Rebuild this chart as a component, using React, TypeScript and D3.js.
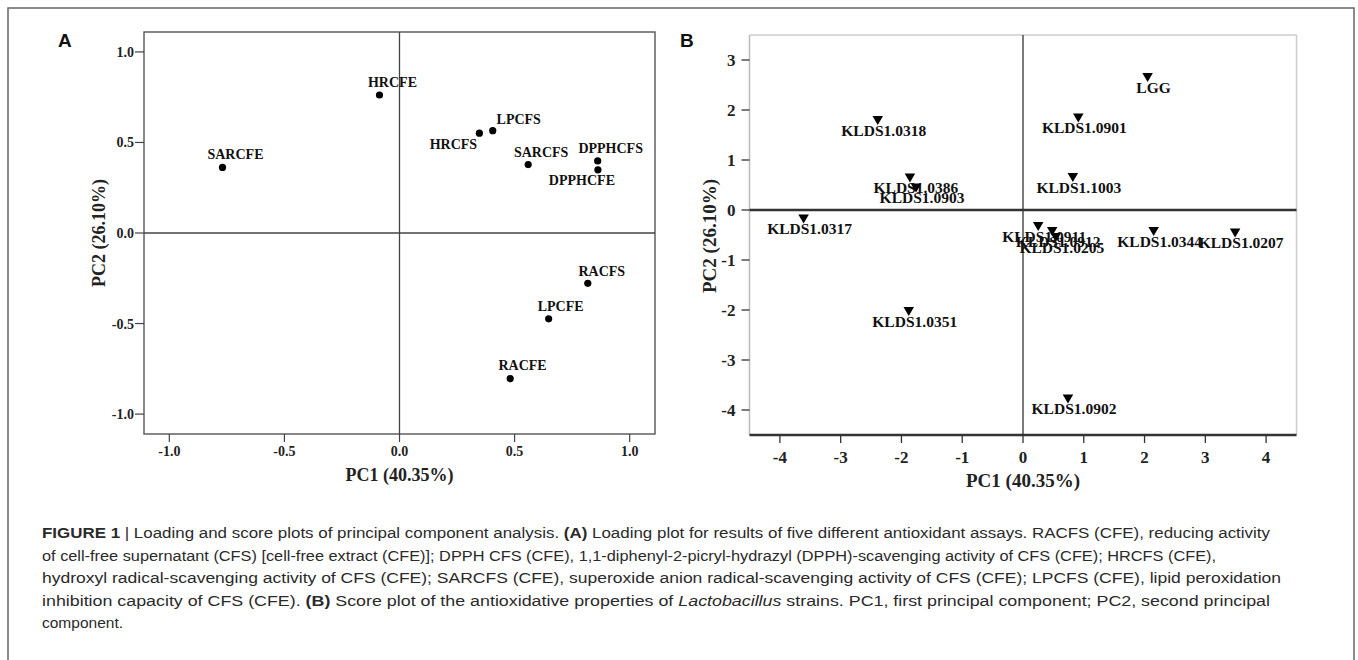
import React from "react";
import * as d3 from "d3";

// ---------- Panel A: loading plot ----------
const loadingLabels = ["HRCFE", "SARCFE", "HRCFS", "LPCFS", "SARCFS", "DPPHCFS", "DPPHCFE", "RACFS", "LPCFE", "RACFE"];
const loadingPC1 = [-0.087, -0.769, 0.347, 0.405, 0.559, 0.861, 0.862, 0.818, 0.648, 0.481];
const loadingPC2 = [0.762, 0.362, 0.551, 0.565, 0.378, 0.398, 0.349, -0.278, -0.474, -0.804];
const ticksA = [-1.0, -0.5, 0.0, 0.5, 1.0];

// ---------- Panel B: score plot ----------
const strains = ["LGG", "KLDS1.0318", "KLDS1.0901", "KLDS1.0386", "KLDS1.0903", "KLDS1.1003", "KLDS1.0317", "KLDS1.0911", "KLDS1.0912", "KLDS1.0205", "KLDS1.0344", "KLDS1.0207", "KLDS1.0351", "KLDS1.0902"];
const scorePC1 = [2.05, -2.39, 0.91, -1.86, -1.76, 0.82, -3.61, 0.25, 0.48, 0.54, 2.15, 3.49, -1.88, 0.74];
const scorePC2 = [2.68, 1.82, 1.87, 0.67, 0.47, 0.68, -0.15, -0.3, -0.4, -0.52, -0.4, -0.43, -2.0, -3.75];
const ticksBx = [-4, -3, -2, -1, 0, 1, 2, 3, 4];
const ticksBy = [-4, -3, -2, -1, 0, 1, 2, 3];

// label placement (layout only) for panel A: [dx, dy] from point
const labelOffsetA: [number, number][] = [
  [13, -8], [13, -8], [-26, 16], [26, -6.5], [13, -7.6], [13, -8.4], [-16, 15.3], [14, -7.3], [12, -8.3], [12.4, -8.7],
];

const captionLines: { parts: { t: string; b?: boolean; i?: boolean }[]; end: number | null }[] = [
  {
    parts: [
      { t: "FIGURE 1", b: true },
      { t: " | Loading and score plots of principal component analysis. " },
      { t: "(A)", b: true },
      { t: " Loading plot for results of five different antioxidant assays. RACFS (CFE), reducing activity" },
    ],
    end: 1270,
  },
  {
    parts: [{ t: "of cell-free supernatant (CFS) [cell-free extract (CFE)]; DPPH CFS (CFE), 1,1-diphenyl-2-picryl-hydrazyl (DPPH)-scavenging activity of CFS (CFE); HRCFS (CFE)," }],
    end: 1216,
  },
  {
    parts: [{ t: "hydroxyl radical-scavenging activity of CFS (CFE); SARCFS (CFE), superoxide anion radical-scavenging activity of CFS (CFE); LPCFS (CFE), lipid peroxidation" }],
    end: 1281,
  },
  {
    parts: [
      { t: "inhibition capacity of CFS (CFE). " },
      { t: "(B)", b: true },
      { t: " Score plot of the antioxidative properties of " },
      { t: "Lactobacillus", i: true },
      { t: " strains. PC1, first principal component; PC2, second principal" },
    ],
    end: 1270,
  },
  { parts: [{ t: "component." }], end: null },
];

const serif = "'Liberation Serif', 'Times New Roman', serif";
const sans = "'Liberation Sans', Arial, sans-serif";
const narrow = "'Liberation Sans Narrow', 'Arial Narrow', 'Liberation Sans', Arial, sans-serif";

const locale = d3.formatLocale({ decimal: ".", thousands: ",", grouping: [3], currency: ["", ""], minus: "-" });

export default function App() {
  // Panel A scales
  const xA = d3.scaleLinear().domain([-1.11, 1.11]).range([144, 655]);
  const yA = d3.scaleLinear().domain([-1.11, 1.11]).range([434, 32]);
  // Panel B scales
  const xB = d3.scaleLinear().domain([-4.5, 4.5]).range([749.5, 1296.5]);
  const yB = d3.scaleLinear().domain([-4.5, 3.5]).range([435, 35]);
  const fmtA = locale.format(".1f");
  const fmtB = locale.format("d");
  const tri = d3.symbol().type(d3.symbolTriangle).size(48)() as string;

  const [ax0, ax1] = xA.range();
  const [ay0, ay1] = yA.range();
  const [bx0, bx1] = xB.range();
  const [by0, by1] = yB.range();

  return (
    <div style={{ position: "absolute", left: 0, top: 0 }}>
      <svg width={1358} height={660} style={{ display: "block", background: "#fff" }}>
        <rect x={8} y={8} width={1346} height={680} fill="none" stroke="#666" strokeWidth={1.5} />

        {/* Panel labels */}
        <text x={58} y={47} fontFamily={sans} fontWeight="bold" fontSize={19} fill="#111">A</text>
        <text x={680} y={47} fontFamily={sans} fontWeight="bold" fontSize={19} fill="#111">B</text>

        {/* ---------- Panel A ---------- */}
        <g>
          <rect x={ax0} y={ay1} width={ax1 - ax0} height={ay0 - ay1} fill="none" stroke="#555" strokeWidth={1.4} />
          <line x1={xA(0)} x2={xA(0)} y1={ay1} y2={ay0} stroke="#444" strokeWidth={1.3} />
          <line x1={ax0} x2={ax1} y1={yA(0)} y2={yA(0)} stroke="#444" strokeWidth={1.3} />
          {ticksA.map((t) => (
            <g key={"ay" + t}>
              <line x1={ax0 - 9} x2={ax0} y1={yA(t)} y2={yA(t)} stroke="#444" strokeWidth={1.2} />
              <text x={ax0 - 10} y={yA(t) + 5} textAnchor="end" fontFamily={serif} fontWeight="bold" fontSize={14} fill="#222">
                {fmtA(t)}
              </text>
            </g>
          ))}
          {ticksA.map((t) => (
            <g key={"ax" + t}>
              <line x1={xA(t)} x2={xA(t)} y1={ay0} y2={ay0 + 8} stroke="#444" strokeWidth={1.2} />
              <text x={xA(t)} y={ay0 + 22} textAnchor="middle" fontFamily={serif} fontWeight="bold" fontSize={14} fill="#222">
                {fmtA(t)}
              </text>
            </g>
          ))}
          <text x={xA(0)} y={481} textAnchor="middle" fontFamily={serif} fontWeight="bold" fontSize={18} fill="#222">
            PC1 (40.35%)
          </text>
          <text transform={`translate(105,${yA(0)}) rotate(-90)`} textAnchor="middle" fontFamily={serif} fontWeight="bold" fontSize={18} fill="#222">
            PC2 (26.10%)
          </text>
          {loadingLabels.map((lab, i) => (
            <g key={lab}>
              <circle cx={xA(loadingPC1[i])} cy={yA(loadingPC2[i])} r={3.6} fill="#000" />
              <text
                x={xA(loadingPC1[i]) + labelOffsetA[i][0]}
                y={yA(loadingPC2[i]) + labelOffsetA[i][1]}
                textAnchor="middle"
                fontFamily={serif}
                fontWeight="bold"
                fontSize={14}
                fill="#111"
              >
                {lab}
              </text>
            </g>
          ))}
        </g>

        {/* ---------- Panel B ---------- */}
        <g>
          <line x1={bx0} x2={bx0} y1={by1} y2={by0} stroke="#bbb" strokeWidth={1.5} />
          <line x1={bx0} x2={bx1} y1={by1} y2={by1} stroke="#ccc" strokeWidth={1.5} />
          <line x1={bx1} x2={bx1} y1={by1} y2={by0} stroke="#ccc" strokeWidth={1.5} />
          <line x1={xB(0)} x2={xB(0)} y1={by1} y2={by0} stroke="#333" strokeWidth={1.3} />
          <line x1={bx0} x2={bx1} y1={yB(0)} y2={yB(0)} stroke="#333" strokeWidth={2.5} />
          <line x1={bx0} x2={bx1} y1={by0} y2={by0} stroke="#333" strokeWidth={2.5} />
          {ticksBy.map((t) => (
            <g key={"by" + t}>
              <line x1={bx0 - 8} x2={bx0} y1={yB(t)} y2={yB(t)} stroke="#333" strokeWidth={1.3} />
              <text x={bx0 - 14} y={yB(t) + 6} textAnchor="end" fontFamily={serif} fontWeight="bold" fontSize={17} fill="#222">
                {fmtB(t)}
              </text>
            </g>
          ))}
          {ticksBx.map((t) => (
            <g key={"bx" + t}>
              <line x1={xB(t)} x2={xB(t)} y1={by0} y2={by0 + 8} stroke="#333" strokeWidth={1.3} />
              <text x={xB(t)} y={by0 + 28} textAnchor="middle" fontFamily={serif} fontWeight="bold" fontSize={17} fill="#222">
                {fmtB(t)}
              </text>
            </g>
          ))}
          <text x={xB(0)} y={487} textAnchor="middle" fontFamily={serif} fontWeight="bold" fontSize={19} fill="#222">
            PC1 (40.35%)
          </text>
          <text transform={`translate(716,236) rotate(-90)`} textAnchor="middle" fontFamily={serif} fontWeight="bold" fontSize={19} fill="#222">
            PC2 (26.10%)
          </text>
          {strains.map((s, i) => {
            const px = xB(scorePC1[i]);
            const py = yB(scorePC2[i]);
            return (
              <g key={s}>
                <path d={tri} transform={`translate(${px},${py}) rotate(180)`} fill="#000" />
                <text x={px + 6} y={py + 16.5} textAnchor="middle" fontFamily={serif} fontWeight="bold" fontSize={15.5} fill="#111">
                  {s}
                </text>
              </g>
            );
          })}
        </g>

        {/* ---------- Caption ---------- */}
        {captionLines.map((ln, i) => (
          <text
            key={i}
            x={42}
            y={538 + i * 22.5}
            fontFamily={narrow}
            fontSize={15.5}
            fill="#2a2a2a"
            {...(ln.end !== null ? { textLength: ln.end - 42, lengthAdjust: "spacingAndGlyphs" } : {})}
          >
            {ln.parts.map((p, j) => (
              <tspan key={j} fontWeight={p.b ? "bold" : "normal"} fontStyle={p.i ? "italic" : "normal"}>
                {p.t}
              </tspan>
            ))}
          </text>
        ))}
      </svg>
    </div>
  );
}
